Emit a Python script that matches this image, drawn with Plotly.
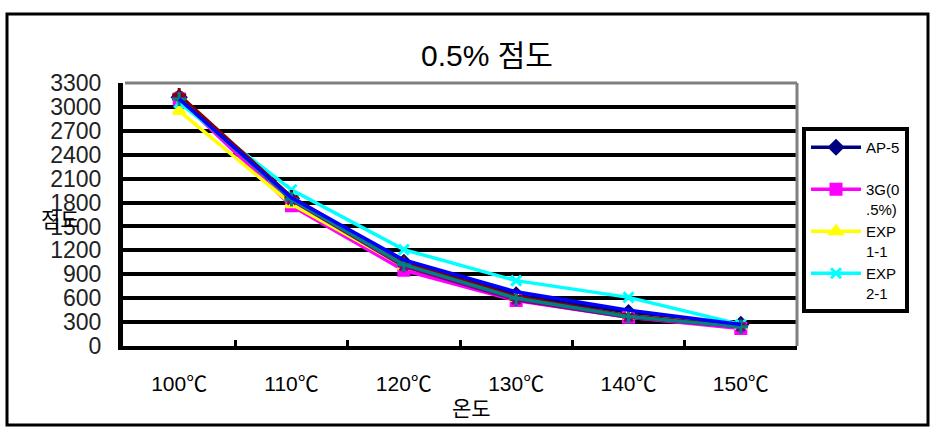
import plotly.graph_objects as go

categories = ["100℃", "110℃", "120℃", "130℃", "140℃", "150℃"]

ap5 = [3120, 1850, 1050, 640, 420, 270]
g3 = [3100, 1760, 950, 570, 360, 220]
exp11 = [2950, 1780, 1000, 600, 380, 250]
exp21 = [3050, 1960, 1210, 820, 610, 270]
s5 = [3130, 1830, 1000, 580, 360, 240]
s6 = [3150, 1870, 1050, 620, 380, 250]
s7 = [3100, 1840, 1020, 600, 370, 240]
s8 = [3100, 1860, 1080, 680, 450, 270]

series = [
    ("AP-5<br> ", ap5, "#000080", "diamond", True),
    ("3G(0<br>.5%)", g3, "#FF00FF", "square", True),
    ("EXP<br>1-1", exp11, "#FFFF00", "triangle-up", True),
    ("EXP<br>2-1", exp21, "#00FFFF", "x-thin-open", True),
    ("S5", s5, "#800080", "asterisk-open", False),
    ("S6", s6, "#800000", "cross-thin-open", False),
    ("S7", s7, "#008080", "cross-thin-open", False),
    ("S8", s8, "#0000FF", None, False),
]

yticks = list(range(0, 3301, 300))

NUM_FONT = "Liberation Sans, Noto Sans CJK KR, sans-serif"
KR_FONT = "Noto Sans CJK KR, Liberation Sans, sans-serif"

fig = go.Figure()
for name, vals, color, sym, show in series:
    if sym is None:
        mode = "lines"
        marker = None
    else:
        mode = "lines+markers"
        marker = dict(symbol=sym, size=10, color=color,
                      line=dict(color=color, width=3))
    fig.add_trace(go.Scatter(
        x=categories, y=vals, name=name, mode=mode,
        line=dict(color=color, width=3.5),
        marker=marker, showlegend=show, cliponaxis=False,
    ))

L, R, T, B = 123, 147, 83, 90
W, H = 944, 436
pw = W - L - R
ph = H - T - B

def px(x):
    return (x - L) / pw

def py(y):
    return (H - B - y) / ph

fig.update_layout(
    width=W, height=H,
    margin=dict(l=L, r=R, t=T, b=B, pad=0),
    paper_bgcolor="white", plot_bgcolor="white",
    title=dict(text="0.5% 점도", x=487 / W, xanchor="center",
               y=1 - 55 / H, yanchor="middle",
               font=dict(family=NUM_FONT, size=30, color="black")),
    xaxis=dict(
        type="category", showgrid=False, zeroline=False,
        showline=True, linecolor="black", linewidth=4,
        ticks="inside", tickson="boundaries", ticklen=6, tickwidth=3,
        tickcolor="black", ticklabelstandoff=16,
        tickfont=dict(family=NUM_FONT, size=21, color="black"),
        range=[-0.5, 5.5],
    ),
    yaxis=dict(
        range=[0, 3300], tickvals=yticks, ticktext=[str(v) for v in yticks],
        showgrid=True, gridcolor="black", gridwidth=4,
        zeroline=False, showline=True, linecolor="black", linewidth=5,
        ticks="", ticklabelstandoff=12,
        tickfont=dict(family=NUM_FONT, size=23, color="#222222"),
    ),
    legend=dict(
        x=px(802), y=py(127), xanchor="left", yanchor="top",
        bgcolor="white", bordercolor="black", borderwidth=4,
        font=dict(family=NUM_FONT, size=15, color="black"),
        valign="top", itemwidth=50, tracegroupgap=0,
    ),
    showlegend=True,
    annotations=[
        dict(text="점도", x=px(60), y=py(218), xref="paper", yref="paper",
             showarrow=False, xanchor="center", yanchor="middle",
             font=dict(family=KR_FONT, size=21, color="black")),
        dict(text="온도", x=px(472), y=py(407), xref="paper", yref="paper",
             showarrow=False, xanchor="center", yanchor="middle",
             font=dict(family=KR_FONT, size=21, color="black")),
    ],
    shapes=[
        dict(type="rect", xref="paper", yref="paper",
             x0=px(7), x1=px(928), y0=py(425), y1=py(14),
             line=dict(color="black", width=3), layer="below"),
        dict(type="line", xref="paper", yref="paper",
             x0=px(125), x1=px(797), y0=1, y1=1,
             line=dict(color="#808080", width=3), layer="above"),
        dict(type="line", xref="paper", yref="paper",
             x0=1, x1=1, y0=0, y1=1,
             line=dict(color="#808080", width=3), layer="above"),
    ],
)

fig.write_html("out.html")
